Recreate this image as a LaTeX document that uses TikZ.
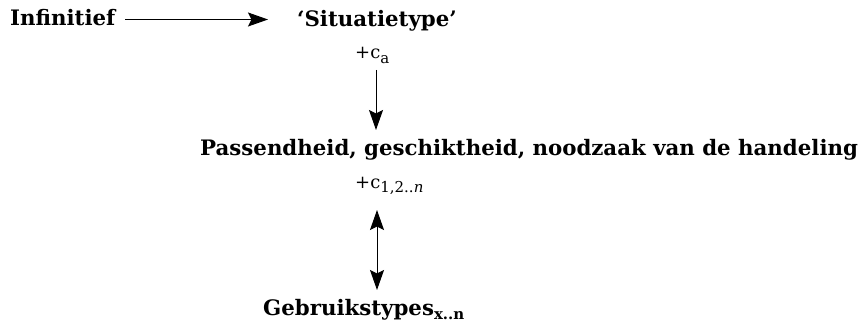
\documentclass[tikz,border=0pt]{standalone}
\usepackage{fontspec}
\setmainfont{DejaVu Serif}
\usetikzlibrary{arrows.meta}
\newcommand\mysb[1]{\raisebox{-4.5pt}{\fontsize{15}{17}\selectfont #1}}
\begin{document}
\begin{tikzpicture}[x=1pt,y=-1pt,
  lbl/.style={font=\fontsize{21.3}{25}\selectfont\bfseries, inner sep=0pt, anchor=base west},
  cond/.style={font=\fontsize{18}{21}\selectfont, inner sep=0pt, anchor=base west},
  tip/.style={Stealth[length=20pt,width=14pt,inset=3.5pt]},
  conn/.style={line width=1pt, -{Stealth[length=20pt,width=14pt,inset=3.5pt]}},
  dconn/.style={line width=1pt, {Stealth[length=20pt,width=14pt,inset=3.5pt]}-{Stealth[length=20pt,width=14pt,inset=3.5pt]}}]
\useasboundingbox (0,0) rectangle (864,326);
\node[lbl] (inf) at (10,26) {Infinitief};
\node[lbl] (sit) at (297,27) {‘Situatietype’};
\node[cond] (ca) at (355,59) {+c\mysb{a}};
\node[lbl] (pas) at (200,155) {Passendheid, geschiktheid, noodzaak van de handeling};
\node[cond] (cn) at (355,188) {+c\mysb{1,2..\textit{n}}};
\node[lbl] (geb) at (263,315) {Gebruikstypes\mysb{\bfseries x..n}};
\coordinate (h1) at (125,19.5);
\coordinate (h2) at (268,19.5);
\coordinate (v1) at (376,70);
\coordinate (v2) at (376,130);
\coordinate (d1) at (377,210);
\coordinate (d2) at (377,290);
\draw[conn] (h1) -- (h2);
\draw[conn] (v1) -- (v2);
\draw[dconn] (d1) -- (d2);
\end{tikzpicture}
\end{document}
